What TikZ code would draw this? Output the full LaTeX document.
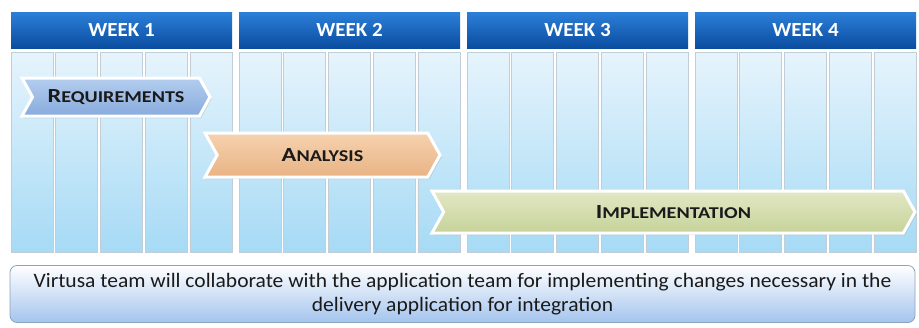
\documentclass[tikz,border=0pt]{standalone}
\usepackage{fontspec}
\setmainfont{Carlito}[FakeStretch=1.05]
\newfontfamily\phasefont{Carlito}[FakeStretch=1.22]
\usetikzlibrary{shapes.symbols,shadows}
\definecolor{hdrtop}{HTML}{2C7FD8}
\definecolor{hdrbot}{HTML}{0A4DA0}
\definecolor{coltop}{HTML}{E6F4FC}
\definecolor{colbot}{HTML}{A6DAF5}
\definecolor{colline}{HTML}{C3CDD6}
\definecolor{reqtop}{HTML}{B3CDEE}
\definecolor{reqbot}{HTML}{88ABDD}
\definecolor{anatop}{HTML}{F6D2AF}
\definecolor{anabot}{HTML}{E8B384}
\definecolor{imptop}{HTML}{E2E8C4}
\definecolor{impbot}{HTML}{C7D29A}
\definecolor{notetop}{HTML}{FFFFFF}
\definecolor{notebot}{HTML}{A4C4EE}
\definecolor{noteline}{HTML}{8EA3BC}
\definecolor{txt}{HTML}{1A1A1A}
\newcommand{\phaselabel}[2]{{\phasefont\bfseries\fontsize{20}{24}\selectfont #1\fontsize{16.5}{20}\selectfont #2}}
\begin{document}
\begin{tikzpicture}[x=1pt,y=-1pt,
  weekhdr/.style={rectangle, minimum width=221pt, minimum height=36pt, inner sep=0pt,
    top color=hdrtop, bottom color=hdrbot, draw=none, text=white,
    font=\fontsize{20}{24}\selectfont\bfseries},
  colbox/.style={rectangle, minimum width=42pt, minimum height=200pt, inner sep=0pt,
    top color=coltop, bottom color=colbot, draw=colline, line width=0.8pt},
  phase/.style={signal, signal from=west, signal to=east, signal pointer angle=122,
    inner sep=0pt, draw=white, line width=3pt, text=txt,
    drop shadow={shadow xshift=1.5pt, shadow yshift=-2pt, opacity=0.25}},
  note/.style={rectangle, rounded corners=7pt, minimum width=905pt, minimum height=57pt,
    top color=notetop, bottom color=notebot, draw=noteline, line width=0.8pt,
    align=center, text=txt, font=\fontsize{20.5}{24.5}\selectfont}
]
\useasboundingbox[fill=white] (0,0) rectangle (919,327);
% week headers
\node[weekhdr] (w1) at (121.5,30) {WEEK 1};
\node[weekhdr] (w2) at (349.5,30) {WEEK 2};
\node[weekhdr] (w3) at (577.5,30) {WEEK 3};
\node[weekhdr] (w4) at (805.5,30) {WEEK 4};
% day columns
\foreach \w in {0,...,3}{
  \foreach \k in {0,...,4}{
    \node[colbox] (c\w\k) at ({11+228*\w+21.1+44.7*\k},152) {};
  }
}
% phases
\node[phase, top color=reqtop, bottom color=reqbot, minimum width=188pt, minimum height=38pt]
  (req) at (116,97) {\phaselabel{R}{EQUIREMENTS}};
\node[phase, top color=anatop, bottom color=anabot, minimum width=235pt, minimum height=44pt]
  (ana) at (322.5,155) {\phaselabel{A}{NALYSIS}};
\node[phase, top color=imptop, bottom color=impbot, minimum width=483pt, minimum height=42pt]
  (imp) at (673.5,212) {\phaselabel{I}{MPLEMENTATION}};
% note
\node[note] (note) at (462.5,294) {Virtusa team will collaborate with the application team for implementing changes necessary in the\\ delivery application for integration};
\end{tikzpicture}
\end{document}
